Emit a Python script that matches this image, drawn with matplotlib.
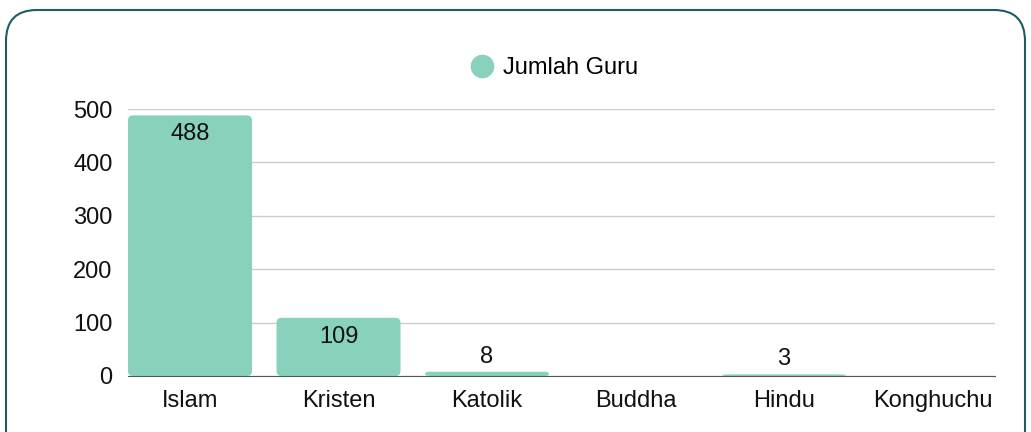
import matplotlib.pyplot as plt
from matplotlib.patches import FancyBboxPatch
from matplotlib.lines import Line2D

# Data
agama = ["Islam", "Kristen", "Katolik", "Buddha", "Hindu", "Konghuchu"]
jumlah_guru = [488, 109, 8, 0, 3, 0]
y_ticks = [0, 100, 200, 300, 400, 500]

bar_color = "#88d1bc"
border_color = "#1b5e5f"

plt.rcParams["font.family"] = ["Liberation Sans", "DejaVu Sans"]

fig = plt.figure(figsize=(10.31, 4.32), dpi=100)
ax = fig.add_axes([128 / 1031, 56 / 432, (995 - 128) / 1031, (376 - 109) / 432])

# Rounded card border round the whole chart
card = FancyBboxPatch((6 / 1031, -0.1), 1019 / 1031, 1.1 - 10 / 432,
                      boxstyle="round,pad=0,rounding_size=0.03",
                      mutation_aspect=1031 / 432,
                      transform=fig.transFigure, facecolor="white",
                      edgecolor=border_color, linewidth=1.5, zorder=-10)
fig.patches.append(card)

x = range(len(agama))
bars = ax.bar(x, jumlah_guru, width=0.835, color=bar_color)

# swap plain bars for ones with rounded corners
for bar in bars:
    bx, by = bar.get_x(), bar.get_y()
    w, h = bar.get_width(), bar.get_height()
    bar.set_visible(False)
    if h <= 0:
        continue
    r = 0.034
    aspect = 9.4 / 0.034
    if h < 2 * r * aspect:
        aspect = h / (2 * r)
    ax.add_patch(FancyBboxPatch((bx, by), w, h,
                                boxstyle=f"round,pad=0,rounding_size={r}",
                                mutation_aspect=aspect,
                                facecolor=bar_color, edgecolor="none", zorder=2))

# value labels: inside for tall bars, above for short ones
for xi, v in zip(x, jumlah_guru):
    if v == 0:
        continue
    if v > 50:
        ax.annotate(str(v), (xi, v), xytext=(0, -13.5), textcoords="offset points",
                    ha="center", va="center", fontsize=17, color="#111111", zorder=3)
    else:
        ax.annotate(str(v), (xi, v), xytext=(0, 3), textcoords="offset points",
                    ha="center", va="bottom", fontsize=17, color="#111111", zorder=3)

ax.set_xlim(-0.4175, 5.42)
ax.set_ylim(0, 500)
ax.set_yticks(y_ticks)
ax.set_xticks(list(x))
ax.set_xticklabels(agama)
ax.tick_params(axis="both", length=0, labelsize=17, colors="#111111")
ax.tick_params(axis="x", pad=10)
ax.tick_params(axis="y", pad=11)
ax.grid(axis="y", color="#cccccc", linewidth=1)
ax.set_axisbelow(True)
for side in ["top", "right", "left"]:
    ax.spines[side].set_visible(False)
ax.spines["bottom"].set_color("#555555")
ax.spines["bottom"].set_zorder(4)

handle = Line2D([], [], marker="o", linestyle="none", markersize=16,
                markerfacecolor=bar_color, markeredgecolor=bar_color)
fig.legend([handle], ["Jumlah Guru"], loc="center",
           bbox_to_anchor=(551.5 / 1031, 1 - 68 / 432), frameon=False,
           fontsize=17, handletextpad=0.2, handlelength=1.4)

fig.savefig("out.png", dpi=100)
